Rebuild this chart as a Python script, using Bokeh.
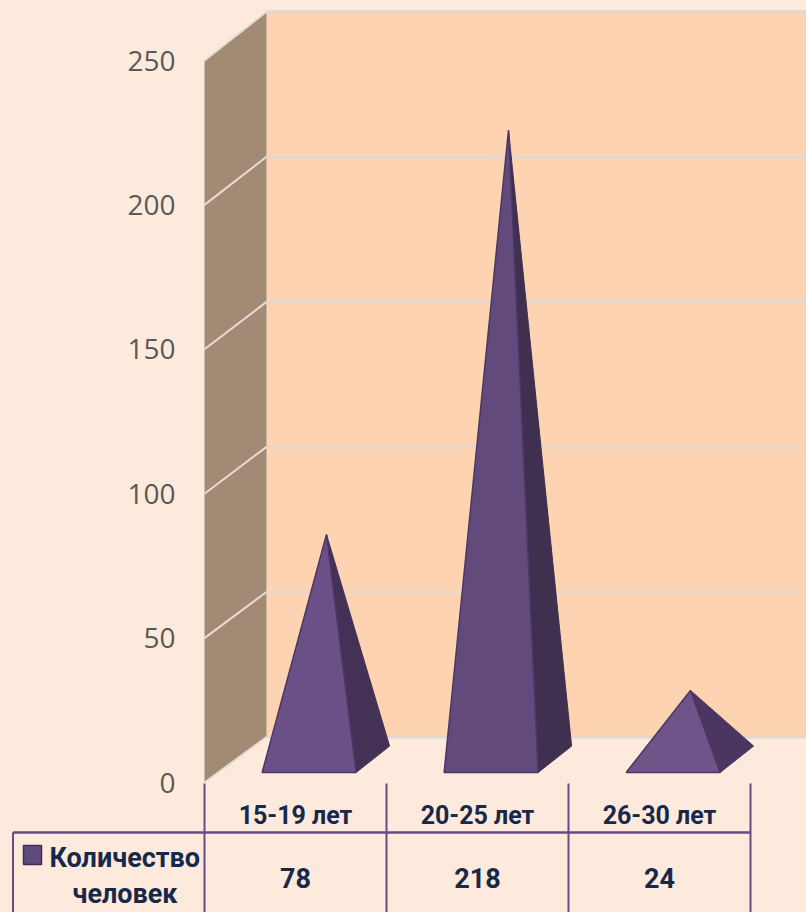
from bokeh.plotting import figure
from bokeh.models import Range1d, FixedTicker
from bokeh.core.properties import value
from bokeh.embed import file_html
from bokeh.resources import INLINE

categories = ["15-19 лет", "20-25 лет", "26-30 лет"]
counts = [78, 218, 24]
y_ticks = [0, 50, 100, 150, 200, 250]
series_lines = ["Количество", "человек"]

BG = "#FDEADC"
WALL = "#FED3B1"
SIDE = "#A38A75"
GRID = "#E2D8CF"
TABLE = "#654C82"
INK = "#16294A"
FRONT = ["#6B5087", "#624B7C", "#6F5389"]
RIGHT = ["#433255", "#3F3050", "#4A3660"]

# layout scale
CAT_W = 182.0
PX_PER_UNIT = 2.888
X0 = 295.0   # page x of first category centre
Y0 = 782.0   # page y of value 0 on the front plane
DEPTH_X = 62.0 / CAT_W
DEPTH_Y = 45.5 / PX_PER_UNIT
BACK_SCALE = 1.0045
HALF = 47.0 / CAT_W


def X(px):
    return (px - X0) / CAT_W


def Y(py):
    return (Y0 - py) / PX_PER_UNIT


def back_y(v):
    return v * BACK_SCALE + DEPTH_Y


W, H = 806, 912
p = figure(width=W, height=H, output_backend="svg", toolbar_location=None,
           x_range=Range1d(X(0), X(806)), y_range=Range1d(Y(912), Y(0)),
           min_border=0, min_border_left=0, min_border_right=0,
           min_border_top=0, min_border_bottom=0,
           background_fill_color=BG, border_fill_color=BG, outline_line_color=None)
p.grid.visible = False
p.xaxis.visible = False

left = X(204)
back = left + DEPTH_X
right_end = X(806)

# back wall and side wall
top = max(y_ticks)
p.patch([back, right_end, right_end, back],
        [back_y(0), back_y(0), back_y(top), back_y(top)],
        fill_color=WALL, line_color=None)
p.patch([left, back, back, left], [0, back_y(0), back_y(top), top],
        fill_color=SIDE, line_color=None)

# gridlines
p.segment([back] * len(y_ticks), [back_y(t) for t in y_ticks],
          [right_end] * len(y_ticks), [back_y(t) for t in y_ticks],
          line_color=GRID, line_width=3)
p.segment([left] * len(y_ticks), y_ticks,
          [back] * len(y_ticks), [back_y(t) for t in y_ticks],
          line_color="#E6DDD4", line_width=2)

# pyramids
D1, D2 = 0.22, 0.80
D2X = 0.76
for i, v in enumerate(counts):
    fl = i - HALF + D1 * DEPTH_X
    fr = i + HALF + D1 * DEPTH_X
    br = i + HALF + D2X * DEPTH_X
    ax = i + 0.5 * DEPTH_X
    ay = v + 0.5 * DEPTH_Y
    yf = D1 * DEPTH_Y
    yb = D2 * DEPTH_Y
    p.patch([fr, br, ax], [yf, yb, ay], fill_color=RIGHT[i],
            line_color=RIGHT[i], line_width=1)
    p.patch([fl, fr, ax], [yf, yf, ay], fill_color=FRONT[i],
            line_color="#4A3765", line_width=1.5)

# value axis labels, drawn by the axis itself inside the frame
ax_y = p.yaxis[0]
ax_y.ticker = FixedTicker(ticks=y_ticks)
ax_y.fixed_location = X(181)
ax_y.axis_line_color = None
ax_y.major_tick_line_color = None
ax_y.minor_tick_line_color = None
ax_y.major_label_standoff = 0
ax_y.major_label_text_font = "Open Sans"
ax_y.major_label_text_font_size = "28px"
ax_y.major_label_text_color = "#595959"

# data table
n = len(categories)
t_head = Y(783)
t_rule = Y(832)
t_bot = Y(912)
xs = [i - 0.5 for i in range(n + 1)]
p.segment(xs, [t_head] * (n + 1), xs, [t_bot] * (n + 1), line_color=TABLE, line_width=2)
p.segment([X(12.5)], [t_rule], [xs[-1]], [t_rule], line_color=TABLE, line_width=2.5)
p.segment([X(12.5)], [t_rule], [X(12.5)], [t_bot], line_color=TABLE, line_width=2)

font = value("Roboto")
p.text(list(range(n)), [Y(815)] * n, text=categories, text_font=font,
       text_font_size="25px", text_font_style="bold", text_color=INK,
       text_align="center", text_baseline="middle")
p.text(list(range(n)), [Y(877)] * n, text=[str(c) for c in counts], text_font=font,
       text_font_size="27px", text_font_style="bold", text_color=INK,
       text_align="center", text_baseline="middle")

# legend key
p.patch([X(23), X(41), X(41), X(23)], [Y(845), Y(845), Y(864), Y(864)],
        fill_color="#5F4A7C", line_color="#3F2E58", line_width=1.5)
p.text([X(49)], [Y(857)], text=[series_lines[0]], text_font=font, text_font_size="27px",
       text_font_style="bold", text_color=INK, text_align="left", text_baseline="middle")
p.text([X(124.5)], [Y(893)], text=[series_lines[1]], text_font=font, text_font_size="27px",
       text_font_style="bold", text_color=INK, text_align="center", text_baseline="middle")

html = file_html(p, INLINE)
html = html.replace("<head>", f"<head><style>html,body{{background:{BG};overflow:hidden;margin:0}}</style>", 1)
open("out.html", "w").write(html)
